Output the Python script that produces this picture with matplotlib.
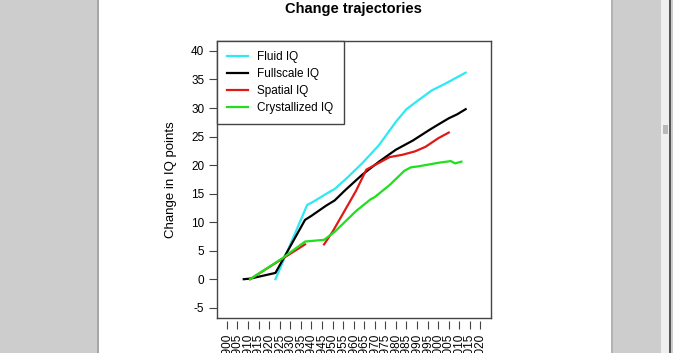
import numpy as np
import matplotlib
matplotlib.use("Agg")
import matplotlib.pyplot as plt
from matplotlib.patches import Rectangle

plt.rcParams['font.family'] = ['Liberation Sans', 'DejaVu Sans']

# Data (year, change in IQ points)
fluid_years = [1923, 1938, 1941, 1949, 1951, 1957, 1964, 1972, 1980, 1985, 1990, 1997, 2003, 2008, 2013]
fluid_vals = [0.0, 13.0, 13.6, 15.4, 15.8, 17.8, 20.3, 23.5, 27.6, 29.8, 31.2, 33.1, 34.2, 35.2, 36.2]

full_years = [1908, 1911, 1923, 1937, 1940, 1947, 1951, 1956, 1964, 1972, 1980, 1988, 1996, 2000, 2005, 2009, 2013]
full_vals = [0.0, 0.1, 1.1, 10.4, 11.1, 12.9, 13.8, 15.6, 18.3, 20.6, 22.7, 24.3, 26.2, 27.1, 28.2, 28.9, 29.8]

spatial_years_a = [1911, 1937]
spatial_vals_a = [0.0, 6.1]
spatial_years_b = [1946, 1950, 1961, 1966, 1970, 1977, 1983, 1989, 1994, 2000, 2005]
spatial_vals_b = [6.1, 8.3, 15.4, 19.2, 20.0, 21.4, 21.8, 22.4, 23.2, 24.7, 25.7]

cryst_years = [1911, 1926, 1937, 1946, 1951, 1961, 1968, 1970, 1977, 1984, 1987, 1991, 2000, 2006, 2008, 2011]
cryst_vals = [0.0, 3.6, 6.6, 6.9, 8.3, 11.9, 14.0, 14.4, 16.5, 19.0, 19.6, 19.8, 20.4, 20.7, 20.3, 20.6]

year_ticks = list(range(1900, 2021, 5))
y_ticks = list(range(-5, 41, 5))

W, H = 673, 353
fig = plt.figure(figsize=(W / 100, H / 100), dpi=100)
fig.patch.set_facecolor('white')


def px_rect(x0, y0, x1, y1, color):
    # rectangle in screen pixels, y measured from the top
    fig.patches.append(Rectangle((x0 / W, 1 - y1 / H), (x1 - x0) / W, (y1 - y0) / H,
                                 transform=fig.transFigure, facecolor=color,
                                 edgecolor='none', zorder=-10))


# viewer window around the page
px_rect(0, 0, 97, H, '#cdcdcd')
px_rect(97, 0, 99, H, '#a6a6a6')
px_rect(611, 0, 613, H, '#b4b4b4')
px_rect(613, 0, 661, H, '#cdcdcd')
px_rect(661, 0, 669, H, '#f0f0f0')
px_rect(663, 125, 668, 134, '#b8b8b8')
px_rect(669, 0, 671, H, '#555555')
px_rect(671, 0, 673, H, '#cdcdcd')

ax = fig.add_axes([216.7 / W, 1 - 318 / H, (490.6 - 216.7) / W, (318 - 40.7) / H])
ax.set_xlim(1895.2, 2024.8)
ax.set_ylim(-6.8, 41.8)

lw = 1.6
ax.plot(fluid_years, fluid_vals, color='#2ee8f2', lw=lw, label='Fluid IQ')
ax.plot(full_years, full_vals, color='black', lw=lw, label='Fullscale IQ')
ax.plot(spatial_years_a, spatial_vals_a, color='#e01818', lw=lw, label='Spatial IQ')
ax.plot(spatial_years_b, spatial_vals_b, color='#e01818', lw=lw)
ax.plot(cryst_years, cryst_vals, color='#1ee01e', lw=lw, label='Crystallized IQ')

for s in ax.spines.values():
    s.set_color('#444444')
    s.set_linewidth(1.0)

ax.set_xticks([])
ax.set_yticks(y_ticks)
ax.set_yticklabels([str(v) for v in y_ticks])
ax.tick_params(axis='y', direction='out', length=6, width=0.8, color='#444444',
               labelsize=8.5, pad=3)

# x axis drawn a little below the box, without an axis line
sec = ax.secondary_xaxis(-0.011)
sec.spines['bottom'].set_visible(False)
sec.set_xticks(year_ticks)
sec.set_xticklabels([str(v) for v in year_ticks], rotation=90)
sec.tick_params(axis='x', direction='out', length=6, width=0.8, color='#444444',
                labelsize=8.5, pad=3)

ax.set_ylabel('Change in IQ points', fontsize=9.5, labelpad=10)
ax.set_title('Change trajectories', fontsize=10.5, fontweight='bold', pad=20)

leg = ax.legend(loc='upper left', bbox_to_anchor=(0, 1), borderaxespad=0,
                fancybox=False, framealpha=1, edgecolor='#444444', fontsize=8.5,
                handlelength=1.78, handletextpad=0.75, labelspacing=0.41,
                borderpad=0.9)
leg.get_frame().set_linewidth(1.0)

fig.savefig('out.png', dpi=100)
